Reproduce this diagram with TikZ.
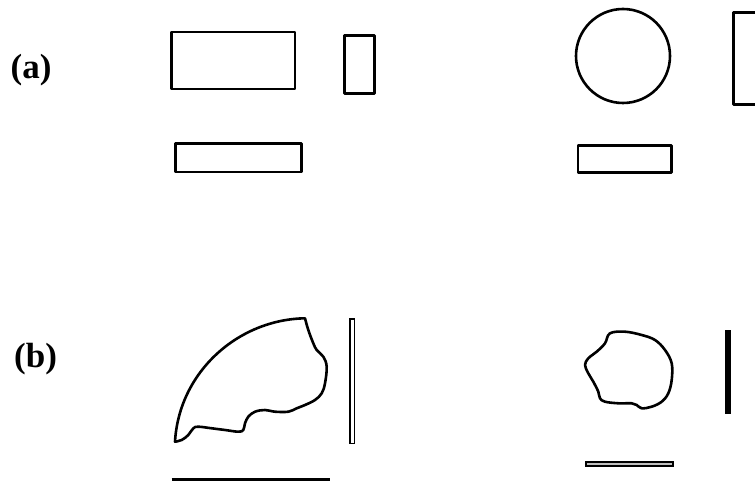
\documentclass[tikz,border=0pt]{standalone}
\usepackage{fontspec}
\setmainfont{Liberation Serif}
\begin{document}
\begin{tikzpicture}[x=1pt,y=-1pt,
  shp/.style={draw=black,line width=2.6pt,line join=round},
  lbl/.style={font=\fontsize{35}{40}\selectfont\bfseries,inner sep=0pt,anchor=base west}]
\useasboundingbox (0,0) rectangle (755,481);
\clip (0,0) rectangle (755,481);
% labels
\node[lbl] (la) at (10.5,79) {(a)};
\node[lbl] (lb) at (14,367) {(b)};
% (a) row
\draw[shp] (171.7,32) rectangle (295,89);
\draw[shp] (344.7,35.7) rectangle (374.7,93.7);
\draw[shp] (175.3,143.7) rectangle (301.3,172);
\draw[shp] (623,56) circle (47);
\draw[shp] (733.3,12.7) rectangle (770,104.3);
\draw[shp] (578,145.3) rectangle (671.7,172.7);
% (b) row, left shape
\draw[shp] (175,441.7) .. controls (179,372) and (238,319.5) .. (305,318.3)
  -- plot[smooth,tension=0.6] coordinates {(305,318.3) (308.3,330) (313.3,343.3) (316.7,350) (323.3,356.7) (326.7,366.7) (325,383.3) (321.7,393.3) (315,400) (305,405) (296.7,408.3) (288.3,411.7) (275,411.7) (265,410) (255,411.7) (248.3,416.7) (245,423.3) (243.3,430) (238.3,431.7) (225,430) (211.7,428.3) (198.3,426.7) (193.3,428.3) (188.3,435) (181.7,440) (175,441.7)} -- cycle;
\draw[line width=1.8pt] (349.8,318.8) rectangle (354.5,443.5);
\draw[line width=2.5pt] (171.7,479.5) -- (330,479.5);
% (b) row, right shape
\draw[shp] plot[smooth cycle,tension=0.6] coordinates {(610,333.3) (625,331.7) (641.7,335) (655,340) (665,350) (671.7,363.3) (671.7,380) (668.3,393.3) (661.7,401.7) (651.7,406.7) (641.7,408.3) (636.7,405) (631.7,403.3) (618.3,403.3) (605,401.7) (600,398.3) (598.3,391.7) (593.3,381.7) (588.3,373.3) (585,365) (588.3,358.3) (596.7,351.7) (605,343.3)};
\fill[black] (725,330) rectangle (730.7,414.3);
\draw[line width=1.8pt,fill=black!25] (585.8,461.8) rectangle (673.2,465.9);
\end{tikzpicture}
\end{document}
